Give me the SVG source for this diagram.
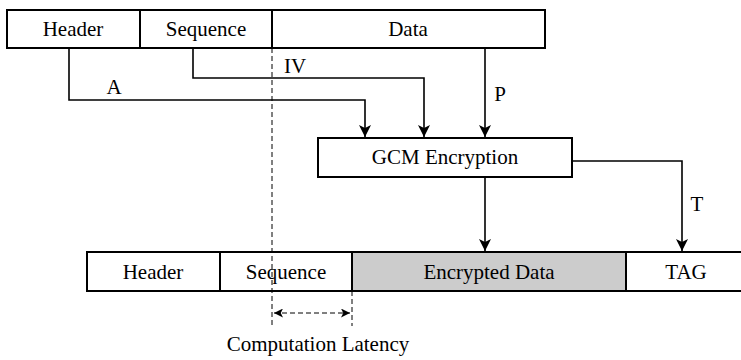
<svg xmlns="http://www.w3.org/2000/svg" width="741" height="360" viewBox="0 0 741 360">
<style>
.box{fill:#fff;stroke:#000;stroke-width:2}
.gray{fill:#cccccc;stroke:#000;stroke-width:2}
.c{fill:none;stroke:#000;stroke-width:1.6}
.d{fill:none;stroke:#000;stroke-width:1;stroke-dasharray:5 3}
</style>
<defs>
<marker id="ah" viewBox="0 0 12 12" refX="12" refY="6" markerWidth="12" markerHeight="12" markerUnits="userSpaceOnUse" orient="auto">
<path d="M0,0 L12,6 L0,12 L3,6 z" fill="#000"/>
</marker>
<marker id="sh" viewBox="0 0 10 10" refX="10" refY="5" markerWidth="10" markerHeight="9" markerUnits="userSpaceOnUse" orient="auto-start-reverse">
<path d="M0,0 L10,5 L0,10 L2.5,5 z" fill="#000"/>
</marker>
</defs>
<g style="font-family:'Liberation Serif';font-size:21px" text-anchor="middle" fill="#000">
<g id="top-header"><rect class="box" x="7" y="10" width="133" height="38"/><text x="73" y="36">Header</text></g>
<g id="top-sequence"><rect class="box" x="140" y="10" width="132" height="38"/><text x="206" y="36">Sequence</text></g>
<g id="top-data"><rect class="box" x="272" y="10" width="273" height="38"/><text x="408" y="36">Data</text></g>
<g id="gcm"><rect class="box" x="318" y="138" width="254" height="39"/><text x="445" y="164">GCM Encryption</text></g>
<g id="bot-header"><rect class="box" x="87" y="252" width="133" height="39"/><text x="153" y="279">Header</text></g>
<g id="bot-sequence"><rect class="box" x="220" y="252" width="132" height="39"/><text x="286" y="279">Sequence</text></g>
<g id="bot-encrypted"><rect class="gray" x="352" y="252" width="274" height="39"/><text x="489" y="279">Encrypted Data</text></g>
<g id="bot-tag"><rect class="box" x="626" y="252" width="122" height="39"/><text x="686" y="279">TAG</text></g>
<g id="connectors">
<path class="c" d="M69,48 V100 H365 V137" marker-end="url(#ah)"/>
<path class="c" d="M193,48 V78 H424 V137" marker-end="url(#ah)"/>
<path class="c" d="M485,48 V137" marker-end="url(#ah)"/>
<path class="c" d="M485,177 V251" marker-end="url(#ah)"/>
<path class="c" d="M572,161 H682 V251" marker-end="url(#ah)"/>
<path class="d" d="M272,48 V326"/>
<path class="d" d="M352,291 V326"/>
<path class="d" d="M274,313 H350" marker-start="url(#sh)" marker-end="url(#sh)"/>
<text x="114" y="94">A</text>
<text x="295" y="73">IV</text>
<text x="500" y="101">P</text>
<text x="697" y="211">T</text>
</g>
<text x="318" y="351">Computation Latency</text>
</g>
</svg>
